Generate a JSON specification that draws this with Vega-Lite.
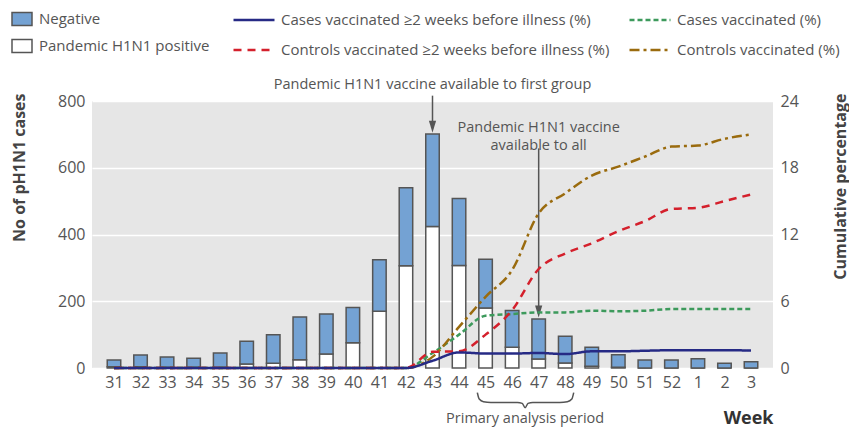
{
  "$schema": "https://vega.github.io/schema/vega-lite/v6.json",
  "width": 681,
  "height": 267,
  "autosize": "none",
  "padding": {"left": 92, "top": 101, "right": 76, "bottom": 60},
  "background": "white",
  "config": {
    "font": "Open Sans",
    "view": {"fill": "#e6e6e6", "stroke": null},
    "axis": {"labelFont": "Open Sans", "titleFont": "Open Sans", "labelColor": "#555", "labelFontSize": 16, "domain": false, "ticks": false},
    "axisX": {"labelOverlap": false},
    "legend": {"labelFont": "Open Sans", "labelColor": "#555", "labelFontSize": 15, "padding": 0, "labelLimit": 500},
    "text": {"font": "Open Sans"}
  },
  "encoding": {
    "x": {"field": "idx", "type": "quantitative",
      "scale": {"domain": [-0.64, 24.64], "nice": false, "zero": false},
      "axis": {"values": [0,1,2,3,4,5,6,7,8,9,10,11,12,13,14,15,16,17,18,19,20,21,22,23,24],
        "labelExpr": "datum.value <= 21 ? '' + (datum.value + 31) : '' + (datum.value - 21)",
        "grid": false, "labelPadding": 6, "labelFlush": false, "labelOverlap": false,
        "title": "Week", "titleFontWeight": "bold", "titleFontSize": 18, "titleColor": "#333",
        "titleX": 681, "titleY": 55, "titleAlign": "right", "titleBaseline": "alphabetic", "titleAnchor": null}}
  },
  "layer": [
    {
      "layer": [
        {
          "data": {"values": [
            {"idx": 0, "status": "Pandemic H1N1 positive", "n": 4}, {"idx": 0, "status": "Negative", "n": 20},
            {"idx": 1, "status": "Pandemic H1N1 positive", "n": 4}, {"idx": 1, "status": "Negative", "n": 35},
            {"idx": 2, "status": "Pandemic H1N1 positive", "n": 2}, {"idx": 2, "status": "Negative", "n": 31},
            {"idx": 3, "status": "Pandemic H1N1 positive", "n": 2}, {"idx": 3, "status": "Negative", "n": 27},
            {"idx": 4, "status": "Pandemic H1N1 positive", "n": 2}, {"idx": 4, "status": "Negative", "n": 43},
            {"idx": 5, "status": "Pandemic H1N1 positive", "n": 12}, {"idx": 5, "status": "Negative", "n": 68},
            {"idx": 6, "status": "Pandemic H1N1 positive", "n": 14}, {"idx": 6, "status": "Negative", "n": 86},
            {"idx": 7, "status": "Pandemic H1N1 positive", "n": 25}, {"idx": 7, "status": "Negative", "n": 128},
            {"idx": 8, "status": "Pandemic H1N1 positive", "n": 42}, {"idx": 8, "status": "Negative", "n": 120},
            {"idx": 9, "status": "Pandemic H1N1 positive", "n": 76}, {"idx": 9, "status": "Negative", "n": 105},
            {"idx": 10, "status": "Pandemic H1N1 positive", "n": 170}, {"idx": 10, "status": "Negative", "n": 154},
            {"idx": 11, "status": "Pandemic H1N1 positive", "n": 306}, {"idx": 11, "status": "Negative", "n": 234},
            {"idx": 12, "status": "Pandemic H1N1 positive", "n": 424}, {"idx": 12, "status": "Negative", "n": 277},
            {"idx": 13, "status": "Pandemic H1N1 positive", "n": 307}, {"idx": 13, "status": "Negative", "n": 201},
            {"idx": 14, "status": "Pandemic H1N1 positive", "n": 180}, {"idx": 14, "status": "Negative", "n": 146},
            {"idx": 15, "status": "Pandemic H1N1 positive", "n": 62}, {"idx": 15, "status": "Negative", "n": 110},
            {"idx": 16, "status": "Pandemic H1N1 positive", "n": 27}, {"idx": 16, "status": "Negative", "n": 120},
            {"idx": 17, "status": "Pandemic H1N1 positive", "n": 15}, {"idx": 17, "status": "Negative", "n": 80},
            {"idx": 18, "status": "Pandemic H1N1 positive", "n": 5}, {"idx": 18, "status": "Negative", "n": 57},
            {"idx": 19, "status": "Pandemic H1N1 positive", "n": 2}, {"idx": 19, "status": "Negative", "n": 38},
            {"idx": 20, "status": "Pandemic H1N1 positive", "n": 0}, {"idx": 20, "status": "Negative", "n": 24},
            {"idx": 21, "status": "Pandemic H1N1 positive", "n": 0}, {"idx": 21, "status": "Negative", "n": 24},
            {"idx": 22, "status": "Pandemic H1N1 positive", "n": 0}, {"idx": 22, "status": "Negative", "n": 28},
            {"idx": 23, "status": "Pandemic H1N1 positive", "n": 0}, {"idx": 23, "status": "Negative", "n": 14},
            {"idx": 24, "status": "Pandemic H1N1 positive", "n": 0}, {"idx": 24, "status": "Negative", "n": 19}
          ]},
          "mark": {"type": "bar", "width": 13.5, "stroke": "#555", "strokeWidth": 1.5},
          "encoding": {
            "y": {"field": "n", "type": "quantitative", "stack": "zero",
              "scale": {"domain": [0, 800], "nice": false},
              "axis": {"values": [0, 200, 400, 600, 800], "grid": true, "gridColor": "white", "gridWidth": 1.5,
                "labelPadding": 7, "title": "No of pH1N1 cases", "titleFontWeight": "bold", "titleFontSize": 16,
                "titleColor": "#444", "titleAngle": 270, "titleX": -73, "titleY": -8, "titleAlign": "right", "titleBaseline": "middle"}},
            "fill": {"field": "status", "type": "nominal",
              "scale": {"domain": ["Negative", "Pandemic H1N1 positive"], "range": ["#74a2d3", "#ffffff"]},
              "legend": {"title": null, "orient": "none", "legendX": -81, "legendY": -93,
                "symbolType": "M-1,-0.65H1V0.65H-1Z", "symbolSize": 400, "symbolStrokeColor": "#555", "symbolStrokeWidth": 1.5,
                "rowPadding": 6, "labelOffset": 6}},
            "order": {"field": "status", "sort": "descending"}
          }
        },
        {
          "data": {"values": [{"idx": 12, "n": 816, "n2": 722}, {"idx": 16, "n": 658, "n2": 168}]},
          "mark": {"type": "rule", "color": "#555", "strokeWidth": 1.5, "clip": false},
          "encoding": {"y": {"field": "n", "type": "quantitative"}, "y2": {"field": "n2"}}
        },
        {
          "data": {"values": [{"idx": 12, "n": 723}, {"idx": 16, "n": 169}]},
          "mark": {"type": "point", "shape": "M-0.6,-1L0.6,-1L0,1Z", "size": 144, "filled": true, "color": "#555", "opacity": 1, "clip": false},
          "encoding": {"y": {"field": "n", "type": "quantitative"}}
        },
        {
          "data": {"values": [
            {"idx": 12, "n": 849, "label": "Pandemic H1N1 vaccine available to first group"},
            {"idx": 16, "n": 720, "label": ["Pandemic H1N1 vaccine", "available to all"]},
            {"idx": 15.49, "n": -153, "label": "Primary analysis period"}
          ]},
          "mark": {"type": "text", "fontSize": 14.5, "lineHeight": 18, "color": "#555", "align": "center", "baseline": "middle", "clip": false},
          "encoding": {"y": {"field": "n", "type": "quantitative"}, "text": {"field": "label"}}
        },
        {
          "data": {"values": [
            {"idx": 13.69, "n": -74}, {"idx": 13.76, "n": -93}, {"idx": 13.92, "n": -101}, {"idx": 14.2, "n": -103},
            {"idx": 15.2, "n": -103}, {"idx": 15.38, "n": -106}, {"idx": 15.49, "n": -119}, {"idx": 15.6, "n": -106},
            {"idx": 15.78, "n": -103}, {"idx": 16.8, "n": -103}, {"idx": 17.08, "n": -101}, {"idx": 17.25, "n": -93}, {"idx": 17.32, "n": -74}
          ]},
          "mark": {"type": "line", "color": "#555", "strokeWidth": 1.5, "interpolate": "monotone", "clip": false},
          "encoding": {"y": {"field": "n", "type": "quantitative"}}
        }
      ]
    },
    {
      "data": {"values": [
        {"idx": 0, "s": "Cases vaccinated (%)", "pct": 0}, {"idx": 1, "s": "Cases vaccinated (%)", "pct": 0}, {"idx": 2, "s": "Cases vaccinated (%)", "pct": 0}, {"idx": 3, "s": "Cases vaccinated (%)", "pct": 0}, {"idx": 4, "s": "Cases vaccinated (%)", "pct": 0}, {"idx": 5, "s": "Cases vaccinated (%)", "pct": 0}, {"idx": 6, "s": "Cases vaccinated (%)", "pct": 0}, {"idx": 7, "s": "Cases vaccinated (%)", "pct": 0}, {"idx": 8, "s": "Cases vaccinated (%)", "pct": 0}, {"idx": 9, "s": "Cases vaccinated (%)", "pct": 0}, {"idx": 10, "s": "Cases vaccinated (%)", "pct": 0}, {"idx": 11, "s": "Cases vaccinated (%)", "pct": 0},
        {"idx": 12, "s": "Cases vaccinated (%)", "pct": 1.35}, {"idx": 13, "s": "Cases vaccinated (%)", "pct": 3.0}, {"idx": 14, "s": "Cases vaccinated (%)", "pct": 4.7}, {"idx": 15, "s": "Cases vaccinated (%)", "pct": 4.85}, {"idx": 16, "s": "Cases vaccinated (%)", "pct": 5.0}, {"idx": 17, "s": "Cases vaccinated (%)", "pct": 5.0}, {"idx": 18, "s": "Cases vaccinated (%)", "pct": 5.15}, {"idx": 19, "s": "Cases vaccinated (%)", "pct": 5.1}, {"idx": 20, "s": "Cases vaccinated (%)", "pct": 5.15}, {"idx": 21, "s": "Cases vaccinated (%)", "pct": 5.3}, {"idx": 22, "s": "Cases vaccinated (%)", "pct": 5.3}, {"idx": 23, "s": "Cases vaccinated (%)", "pct": 5.3}, {"idx": 24, "s": "Cases vaccinated (%)", "pct": 5.3},
        {"idx": 0, "s": "Controls vaccinated (%)", "pct": 0}, {"idx": 1, "s": "Controls vaccinated (%)", "pct": 0}, {"idx": 2, "s": "Controls vaccinated (%)", "pct": 0}, {"idx": 3, "s": "Controls vaccinated (%)", "pct": 0}, {"idx": 4, "s": "Controls vaccinated (%)", "pct": 0}, {"idx": 5, "s": "Controls vaccinated (%)", "pct": 0}, {"idx": 6, "s": "Controls vaccinated (%)", "pct": 0}, {"idx": 7, "s": "Controls vaccinated (%)", "pct": 0}, {"idx": 8, "s": "Controls vaccinated (%)", "pct": 0}, {"idx": 9, "s": "Controls vaccinated (%)", "pct": 0}, {"idx": 10, "s": "Controls vaccinated (%)", "pct": 0}, {"idx": 11, "s": "Controls vaccinated (%)", "pct": 0},
        {"idx": 12, "s": "Controls vaccinated (%)", "pct": 1.0}, {"idx": 13, "s": "Controls vaccinated (%)", "pct": 3.7}, {"idx": 14, "s": "Controls vaccinated (%)", "pct": 6.4}, {"idx": 15, "s": "Controls vaccinated (%)", "pct": 8.8}, {"idx": 16, "s": "Controls vaccinated (%)", "pct": 13.9}, {"idx": 17, "s": "Controls vaccinated (%)", "pct": 15.7}, {"idx": 18, "s": "Controls vaccinated (%)", "pct": 17.3}, {"idx": 19, "s": "Controls vaccinated (%)", "pct": 18.1}, {"idx": 20, "s": "Controls vaccinated (%)", "pct": 19.0}, {"idx": 21, "s": "Controls vaccinated (%)", "pct": 19.9}, {"idx": 22, "s": "Controls vaccinated (%)", "pct": 20.0}, {"idx": 23, "s": "Controls vaccinated (%)", "pct": 20.6}, {"idx": 24, "s": "Controls vaccinated (%)", "pct": 21.0},
        {"idx": 0, "s": "Controls vaccinated ≥2 weeks before illness (%)", "pct": 0}, {"idx": 1, "s": "Controls vaccinated ≥2 weeks before illness (%)", "pct": 0}, {"idx": 2, "s": "Controls vaccinated ≥2 weeks before illness (%)", "pct": 0}, {"idx": 3, "s": "Controls vaccinated ≥2 weeks before illness (%)", "pct": 0}, {"idx": 4, "s": "Controls vaccinated ≥2 weeks before illness (%)", "pct": 0}, {"idx": 5, "s": "Controls vaccinated ≥2 weeks before illness (%)", "pct": 0}, {"idx": 6, "s": "Controls vaccinated ≥2 weeks before illness (%)", "pct": 0}, {"idx": 7, "s": "Controls vaccinated ≥2 weeks before illness (%)", "pct": 0}, {"idx": 8, "s": "Controls vaccinated ≥2 weeks before illness (%)", "pct": 0}, {"idx": 9, "s": "Controls vaccinated ≥2 weeks before illness (%)", "pct": 0}, {"idx": 10, "s": "Controls vaccinated ≥2 weeks before illness (%)", "pct": 0}, {"idx": 11, "s": "Controls vaccinated ≥2 weeks before illness (%)", "pct": 0},
        {"idx": 12, "s": "Controls vaccinated ≥2 weeks before illness (%)", "pct": 1.45}, {"idx": 13, "s": "Controls vaccinated ≥2 weeks before illness (%)", "pct": 1.5}, {"idx": 14, "s": "Controls vaccinated ≥2 weeks before illness (%)", "pct": 3.0}, {"idx": 15, "s": "Controls vaccinated ≥2 weeks before illness (%)", "pct": 5.2}, {"idx": 16, "s": "Controls vaccinated ≥2 weeks before illness (%)", "pct": 8.9}, {"idx": 17, "s": "Controls vaccinated ≥2 weeks before illness (%)", "pct": 10.3}, {"idx": 18, "s": "Controls vaccinated ≥2 weeks before illness (%)", "pct": 11.2}, {"idx": 19, "s": "Controls vaccinated ≥2 weeks before illness (%)", "pct": 12.3}, {"idx": 20, "s": "Controls vaccinated ≥2 weeks before illness (%)", "pct": 13.2}, {"idx": 21, "s": "Controls vaccinated ≥2 weeks before illness (%)", "pct": 14.3}, {"idx": 22, "s": "Controls vaccinated ≥2 weeks before illness (%)", "pct": 14.4}, {"idx": 23, "s": "Controls vaccinated ≥2 weeks before illness (%)", "pct": 15.0}, {"idx": 24, "s": "Controls vaccinated ≥2 weeks before illness (%)", "pct": 15.6},
        {"idx": 0, "s": "Cases vaccinated ≥2 weeks before illness (%)", "pct": 0}, {"idx": 1, "s": "Cases vaccinated ≥2 weeks before illness (%)", "pct": 0}, {"idx": 2, "s": "Cases vaccinated ≥2 weeks before illness (%)", "pct": 0}, {"idx": 3, "s": "Cases vaccinated ≥2 weeks before illness (%)", "pct": 0}, {"idx": 4, "s": "Cases vaccinated ≥2 weeks before illness (%)", "pct": 0}, {"idx": 5, "s": "Cases vaccinated ≥2 weeks before illness (%)", "pct": 0}, {"idx": 6, "s": "Cases vaccinated ≥2 weeks before illness (%)", "pct": 0}, {"idx": 7, "s": "Cases vaccinated ≥2 weeks before illness (%)", "pct": 0}, {"idx": 8, "s": "Cases vaccinated ≥2 weeks before illness (%)", "pct": 0}, {"idx": 9, "s": "Cases vaccinated ≥2 weeks before illness (%)", "pct": 0}, {"idx": 10, "s": "Cases vaccinated ≥2 weeks before illness (%)", "pct": 0}, {"idx": 11, "s": "Cases vaccinated ≥2 weeks before illness (%)", "pct": 0},
        {"idx": 12, "s": "Cases vaccinated ≥2 weeks before illness (%)", "pct": 0.65}, {"idx": 13, "s": "Cases vaccinated ≥2 weeks before illness (%)", "pct": 1.4}, {"idx": 14, "s": "Cases vaccinated ≥2 weeks before illness (%)", "pct": 1.3}, {"idx": 15, "s": "Cases vaccinated ≥2 weeks before illness (%)", "pct": 1.3}, {"idx": 16, "s": "Cases vaccinated ≥2 weeks before illness (%)", "pct": 1.35}, {"idx": 17, "s": "Cases vaccinated ≥2 weeks before illness (%)", "pct": 1.25}, {"idx": 18, "s": "Cases vaccinated ≥2 weeks before illness (%)", "pct": 1.5}, {"idx": 19, "s": "Cases vaccinated ≥2 weeks before illness (%)", "pct": 1.5}, {"idx": 20, "s": "Cases vaccinated ≥2 weeks before illness (%)", "pct": 1.55}, {"idx": 21, "s": "Cases vaccinated ≥2 weeks before illness (%)", "pct": 1.6}, {"idx": 22, "s": "Cases vaccinated ≥2 weeks before illness (%)", "pct": 1.6}, {"idx": 23, "s": "Cases vaccinated ≥2 weeks before illness (%)", "pct": 1.6}, {"idx": 24, "s": "Cases vaccinated ≥2 weeks before illness (%)", "pct": 1.57}
      ]},
      "mark": {"type": "line", "strokeWidth": 2.5, "interpolate": "monotone"},
      "encoding": {
        "y": {"field": "pct", "type": "quantitative",
          "scale": {"domain": [0, 24], "nice": false},
          "axis": {"orient": "right", "values": [0, 6, 12, 18, 24], "grid": false, "labelPadding": 7,
            "title": "Cumulative percentage", "titleFontWeight": "bold", "titleFontSize": 16, "titleColor": "#444",
            "titleAngle": 270, "titleX": 67, "titleY": -8, "titleAlign": "right", "titleBaseline": "middle"}},
        "stroke": {"field": "s", "type": "nominal",
          "scale": {"domain": ["Cases vaccinated ≥2 weeks before illness (%)", "Controls vaccinated ≥2 weeks before illness (%)", "Cases vaccinated (%)", "Controls vaccinated (%)"],
            "range": ["#262a85", "#d4202c", "#3d9a5c", "#9a6b0e"]},
          "legend": {"title": null, "orient": "none", "legendX": 140, "legendY": -103, "columns": 2, "columnPadding": 14,
            "symbolType": "stroke", "symbolSize": 1681, "symbolStrokeWidth": 2.5, "rowPadding": -24, "labelOffset": 5}},
        "strokeDash": {"field": "s", "type": "nominal",
          "scale": {"domain": ["Cases vaccinated ≥2 weeks before illness (%)", "Controls vaccinated ≥2 weeks before illness (%)", "Cases vaccinated (%)", "Controls vaccinated (%)"],
            "range": [[1, 0], [8, 6], [5, 3], [10, 4, 3, 4]]},
          "legend": {"title": null, "orient": "none", "legendX": 140, "legendY": -103, "columns": 2, "columnPadding": 14,
            "symbolType": "stroke", "symbolSize": 1681, "symbolStrokeWidth": 2.5, "rowPadding": -24, "labelOffset": 5}}
      }
    }
  ],
  "resolve": {"scale": {"y": "independent"}}
}
